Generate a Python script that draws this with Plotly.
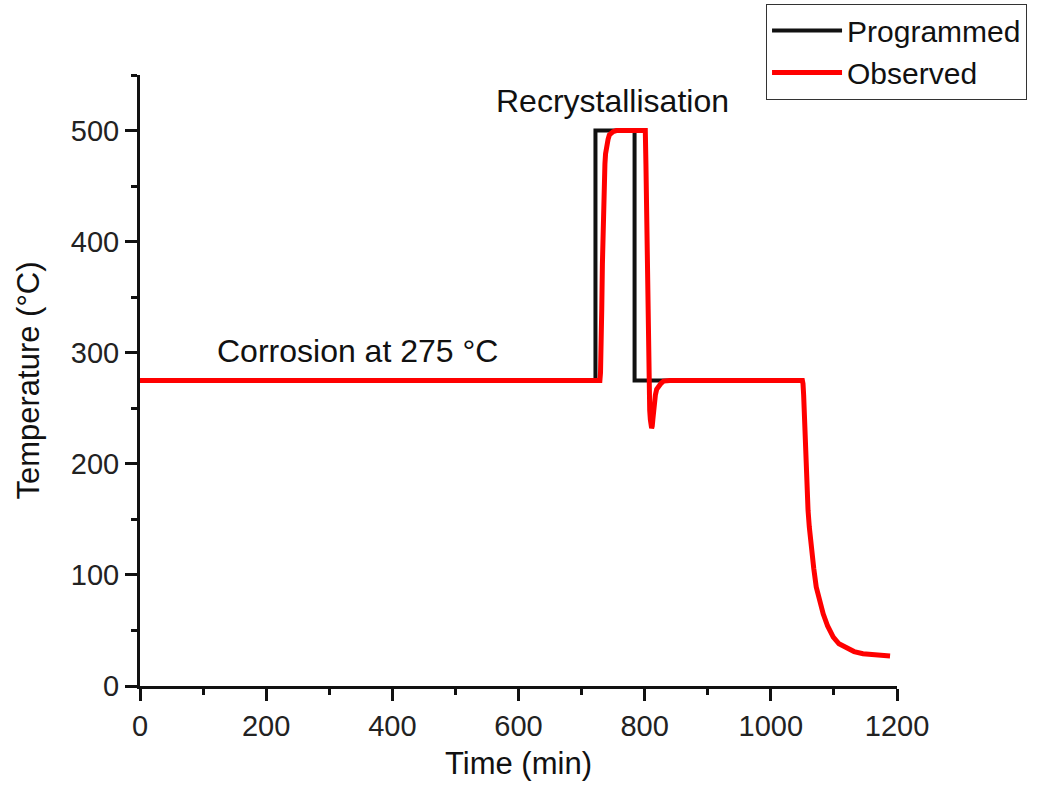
import plotly.graph_objects as go

# Programmed temperature profile
prog_time = [0, 722, 722, 784, 784, 1050]
prog_temp = [275, 275, 500, 500, 275, 275]

# Observed temperature profile
obs_time = [0, 729, 730, 731, 732, 733, 734, 735, 736, 737, 738, 740, 742, 744, 747, 750, 755, 760,
            801, 802, 803, 804, 805, 806, 807, 808, 809, 810, 811, 812, 813, 814, 815, 817, 819,
            822, 826, 830, 840,
            1050, 1051, 1052, 1053, 1054, 1055.5, 1057, 1059, 1061, 1064.5, 1068, 1072, 1077,
            1083, 1090, 1099, 1108, 1120, 1132, 1146, 1160, 1175, 1189]
obs_temp = [275, 275, 282, 300, 340, 380, 415, 440, 458, 470, 479, 488, 492, 496, 498, 499, 500, 500,
            500, 470, 420, 360, 300, 275, 260, 248, 240, 235, 232, 234, 240, 248, 255, 262, 267,
            270, 272.5, 274.5, 275,
            275, 272, 262, 245, 225, 195, 178, 158, 143, 122, 106, 89, 76,
            65, 54, 44, 38, 34, 31, 29, 28, 27.5, 27]

x_ticks = [0, 200, 400, 600, 800, 1000, 1200]
y_ticks = [0, 100, 200, 300, 400, 500]

FONT = "Liberation Sans, Arial, sans-serif"

fig = go.Figure()
fig.add_trace(go.Scatter(x=prog_time, y=prog_temp, mode="lines", name="Programmed",
                         line=dict(color="#111111", width=4)))
fig.add_trace(go.Scatter(x=obs_time, y=obs_temp, mode="lines", name="Observed",
                         line=dict(color="#ff0000", width=5)))

axis_common = dict(showgrid=False, zeroline=False, showline=True, linecolor="#111111",
                   linewidth=3, ticks="outside", ticklen=12, tickwidth=3, tickcolor="#111111",
                   tickfont=dict(family=FONT, size=29, color="#222222"),
                   minor=dict(ticks="outside", ticklen=6, tickwidth=3, tickcolor="#111111"))

fig.update_xaxes(range=[0, 1200], tickvals=x_ticks, minor_dtick=100, automargin=False,
                 title=dict(text="Time (min)", font=dict(family=FONT, size=31, color="#111111"),
                            standoff=12),
                 **axis_common)
fig.update_yaxes(range=[0, 550], tickvals=y_ticks, minor_dtick=50, automargin=False,
                 title=dict(text="Temperature (°C)", font=dict(family=FONT, size=31, color="#111111"),
                            standoff=22),
                 **axis_common)

fig.add_annotation(x=749, y=509, xref="x", yref="y", text="Recrystallisation", showarrow=False,
                   yanchor="bottom", font=dict(family=FONT, size=32, color="#111111"))
fig.add_annotation(x=344, y=284, xref="x", yref="y", text="Corrosion at 275 °C", showarrow=False,
                   yanchor="bottom", font=dict(family=FONT, size=32, color="#111111"))

fig.update_layout(
    width=1041, height=790,
    margin=dict(l=140, r=144, t=75, b=104, autoexpand=False),
    plot_bgcolor="white", paper_bgcolor="white",
    showlegend=True,
    legend=dict(x=0.827, y=1.117, xanchor="left", yanchor="top",
                bgcolor="white", bordercolor="#333333", borderwidth=1,
                font=dict(family=FONT, size=30, color="#111111"),
                itemwidth=70, tracegroupgap=0),
)

fig.write_html("out.html")
